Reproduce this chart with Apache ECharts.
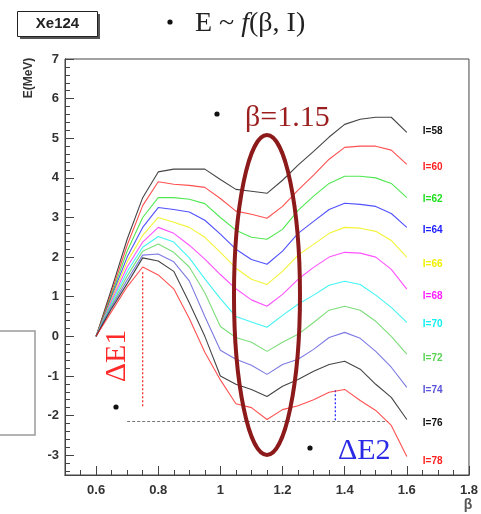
<!DOCTYPE html>
<html>
<head>
<meta charset="utf-8">
<script src="https://cdn.jsdelivr.net/npm/echarts@6/dist/echarts.min.js"></script>
<style>
html,body{margin:0;padding:0;background:#fff;}
#c{width:481px;height:514px;}
</style>
</head>
<body>
<div id="c"></div>
<script>
// beta grid
const beta = [0.6,0.65,0.7,0.75,0.8,0.85,0.9,0.95,1.0,1.05,1.1,1.15,1.2,1.25,1.3,1.35,1.4,1.45,1.5,1.55,1.6];
const names = ['I=58','I=60','I=62','I=64','I=66','I=68','I=70','I=72','I=74','I=76','I=78'];
const E58 = [0,1.2,2.45,3.5,4.15,4.22,4.22,4.22,3.96,3.71,3.66,3.61,3.94,4.32,4.67,5.03,5.35,5.48,5.53,5.53,5.15];
const E60 = [0,1.12,2.3,3.3,3.9,3.84,3.81,3.76,3.48,3.16,3.08,2.98,3.28,3.69,4.07,4.47,4.77,4.8,4.8,4.7,4.34];
const E62 = [0,1.05,2.15,3.0,3.5,3.5,3.46,3.35,3.0,2.68,2.5,2.45,2.7,3.18,3.54,3.86,4.04,4.04,4.0,3.86,3.5];
const E64 = [0,1.0,2.0,2.75,3.25,3.2,3.14,2.93,2.58,2.2,1.94,1.82,2.15,2.6,2.9,3.2,3.36,3.33,3.28,3.1,2.75];
const E66 = [0,0.95,1.88,2.55,3.0,2.88,2.75,2.5,2.12,1.72,1.44,1.31,1.64,2.05,2.32,2.6,2.75,2.73,2.65,2.42,2.0];
const E68 = [0,0.9,1.75,2.38,2.75,2.6,2.3,1.95,1.56,1.2,0.92,0.76,1.06,1.44,1.74,2.0,2.12,2.1,2.0,1.69,1.19];
const E70 = [0,0.85,1.63,2.25,2.52,2.38,1.98,1.45,0.95,0.5,0.36,0.23,0.53,0.81,1.04,1.29,1.39,1.31,1.04,0.73,0.35];
const E72 = [0,0.8,1.52,2.15,2.33,2.12,1.75,1.1,0.25,-0.03,-0.15,-0.38,-0.15,0.05,0.35,0.66,0.76,0.66,0.38,0.0,-0.45];
const E74 = [0,0.75,1.42,2.05,2.08,1.88,1.4,0.5,-0.35,-0.58,-0.73,-0.96,-0.71,-0.58,-0.33,-0.03,0.1,-0.05,-0.38,-0.78,-1.29];
const E76 = [0,0.7,1.33,1.98,1.9,1.64,0.85,0.0,-1.0,-1.21,-1.34,-1.52,-1.26,-1.09,-0.88,-0.71,-0.63,-0.83,-1.21,-1.54,-2.1];
const E78 = [0,0.63,1.25,1.75,1.55,1.2,0.45,-0.4,-1.1,-1.7,-1.8,-2.1,-1.85,-1.75,-1.6,-1.41,-1.34,-1.62,-1.87,-2.25,-3.03];
const curves = [E58,E60,E62,E64,E66,E68,E70,E72,E74,E76,E78];
const colors = ['#111111','#ff2020','#20e020','#2020ff','#f0f000','#ff20ff','#10f0f0','#59d454','#5954d8','#111111','#ff2020'];
// annotation lines (beta, E)
const dE1Line = [[0.75,1.62],[0.75,-1.78]];
const minLine = [[0.70,-2.15],[1.54,-2.15]];
const dE2Line = [[1.37,-1.36],[1.37,-2.15]];
// tick values
const xMajor = [0.6,0.8,1.0,1.2,1.4,1.6,1.8];
const xMinor = [0.55,0.65,0.7,0.75,0.85,0.9,0.95,1.05,1.1,1.15,1.25,1.3,1.35,1.45,1.5,1.55,1.65,1.7,1.75];
const yMajor = [-3,-2,-1,0,1,2,3,4,5,6,7];
const yMinor = [-3.4,-3.2,-2.8,-2.6,-2.4,-2.2,-1.8,-1.6,-1.4,-1.2,-0.8,-0.6,-0.4,-0.2,0.2,0.4,0.6,0.8,1.2,1.4,1.6,1.8,2.2,2.4,2.6,2.8,3.2,3.4,3.6,3.8,4.2,4.4,4.6,4.8,5.2,5.4,5.6,5.8,6.2,6.4,6.6,6.8];

const labelShift = [-1,3,2,3,7,7,2,4,3,4,5];
const chart = echarts.init(document.getElementById('c'), null, {renderer:'canvas'});
const lineSeries = curves.map((arr,i)=>({
  type:'line', name:names[i], data: arr.map((v,j)=>[beta[j],v]),
  showSymbol:false, symbol:'none', smooth:false, animation:false,
  lineStyle:{color:colors[i], width:1.1, opacity:0.78},
  endLabel:{show:true, formatter:names[i], color:colors[i], fontFamily:'Liberation Sans', fontWeight:'bold', fontSize:10, distance:16, offset:[0,labelShift[i]]},
  z:3
}));
const annot = [
  {data:dE1Line, color:'#ff3030', type:[2,2], width:1.3},
  {data:minLine, color:'#777777', type:[3,2], width:1.2},
  {data:dE2Line, color:'#3030ff', type:[2,2], width:1.3}
].map(a=>({type:'line', data:a.data, showSymbol:false, symbol:'none', animation:false,
  lineStyle:{color:a.color, type:a.type, width:a.width}, z:2}));

const labelStyle = {fontFamily:'Liberation Sans', fontWeight:'bold', fontSize:13, color:'#333'};
const axisCommon = {type:'value', axisLine:{show:true, onZero:false, lineStyle:{color:'#444'}}, splitLine:{show:false}};
chart.setOption({
  animation:false,
  backgroundColor:'#fff',
  grid:{left:65, top:59, right:7, bottom:39, show:true, borderColor:'#444', borderWidth:1, backgroundColor:'transparent'},
  xAxis:[
    Object.assign({}, axisCommon, {min:0.5, max:1.8,
      axisTick:{show:true, inside:true, length:9, customValues:xMajor, lineStyle:{color:'#444'}},
      axisLabel:Object.assign({margin:9, customValues:xMajor, formatter:v=>String(Math.round(v*10)/10), showMinLabel:true, showMaxLabel:true}, labelStyle)}),
    Object.assign({}, axisCommon, {min:0.5, max:1.8, position:'bottom',
      axisTick:{show:true, inside:true, length:5, customValues:xMinor, lineStyle:{color:'#444'}},
      axisLabel:{show:false}})
  ],
  yAxis:[
    Object.assign({}, axisCommon, {min:-3.5, max:7,
      axisTick:{show:true, inside:true, length:9, customValues:yMajor, lineStyle:{color:'#444'}},
      axisLabel:Object.assign({margin:6, customValues:yMajor, formatter:v=>String(Math.round(v))}, labelStyle)}),
    Object.assign({}, axisCommon, {min:-3.5, max:7, position:'left',
      axisTick:{show:true, inside:true, length:5, customValues:yMinor, lineStyle:{color:'#444'}},
      axisLabel:{show:false}})
  ],
  series: lineSeries.concat(annot)
});

// Ellipse around beta = 1.15
const cPt = chart.convertToPixel({xAxisIndex:0, yAxisIndex:0},[1.15, 0.0]);
const dot = (x,y)=>({type:'circle', shape:{cx:x, cy:y, r:2.6}, style:{fill:'#111'}});
chart.setOption({graphic:[
  {type:'ellipse', shape:{cx:cPt[0], cy:295, rx:33, ry:160}, style:{fill:'none', stroke:'#8c1a1a', lineWidth:4}, z:10},
  {type:'rect', shape:{x:20, y:14, width:80, height:25}, style:{fill:'#555'}},
  {type:'rect', shape:{x:17.5, y:11.5, width:80, height:25}, style:{fill:'#fff', stroke:'#222', lineWidth:1}},
  {type:'text', x:57.5, y:24, style:{text:'Xe124', fill:'#222', font:'bold 15px "Liberation Sans"', textAlign:'center', textVerticalAlign:'middle'}},
  dot(170,22),
  {type:'text', x:195, y:24, style:{rich:{a:{font:'28px "Liberation Serif"', fill:'#222'}, b:{font:'italic 28px "Liberation Serif"', fill:'#222'}}, text:'{a|E ~ }{b|f}{a|(β, I)}', textVerticalAlign:'middle'}},
  dot(217,114),
  {type:'text', x:245, y:118, style:{text:'β=1.15', font:'30px "Liberation Serif"', fill:'#9b1f1f', textVerticalAlign:'middle'}},
  {type:'text', x:117, y:356, rotation:Math.PI/2, style:{text:'ΔE1', font:'30px "Liberation Serif"', fill:'#ff2a2a', textAlign:'center', textVerticalAlign:'middle'}},
  dot(116,407),
  dot(310,448),
  {type:'text', x:338, y:451, style:{text:'ΔE2', font:'30px "Liberation Serif"', fill:'#2a2ae6', textVerticalAlign:'middle'}},
  {type:'text', x:29, y:78, rotation:Math.PI/2, style:{text:'E(MeV)', font:'bold 12px "Liberation Sans"', fill:'#333', textAlign:'center', textVerticalAlign:'middle'}},
  {type:'text', x:468, y:505, style:{text:'β', font:'bold 14px "Liberation Sans"', fill:'#555', textAlign:'center', textVerticalAlign:'middle'}},
  {type:'polyline', shape:{points:[[0,331],[35,331],[35,435],[0,435]]}, style:{stroke:'#9a9a9a', lineWidth:1.5, fill:'none'}}
]});
</script>
</body>
</html>
